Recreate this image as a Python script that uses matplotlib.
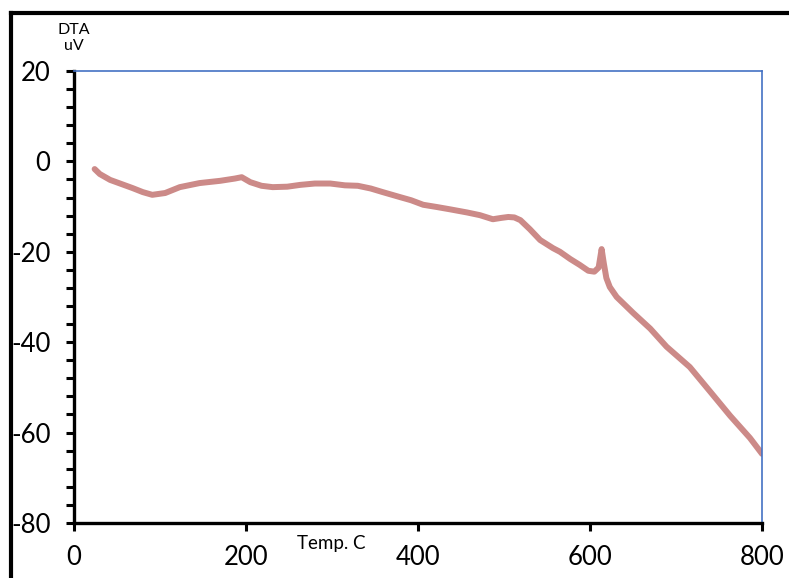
import numpy as np
import matplotlib
matplotlib.use("Agg")
import matplotlib.pyplot as plt
from matplotlib.lines import Line2D
from matplotlib.ticker import MultipleLocator

# DTA trace: temperature (C) vs signal (uV)
temp = [24, 30, 42, 55, 68, 80, 91, 106, 123, 146, 170, 187, 195, 205, 218,
        231, 248, 263, 280, 298, 315, 330, 345, 359, 379, 392, 406, 422, 437,
        457, 472, 487, 497, 505, 512, 519, 530, 542, 557, 565, 577, 588, 598,
        605, 610, 613.5, 616, 619, 623, 631, 650, 670, 689, 716, 740, 763, 786, 800]
dta = [-1.7, -2.8, -4.1, -5.0, -5.9, -6.8, -7.4, -7.0, -5.7, -4.8, -4.3, -3.8,
       -3.5, -4.6, -5.4, -5.7, -5.6, -5.2, -4.9, -4.9, -5.3, -5.4, -6.0, -6.8,
       -7.9, -8.6, -9.6, -10.1, -10.6, -11.3, -11.9, -12.8, -12.5, -12.3, -12.4,
       -13.0, -15.0, -17.4, -19.2, -20.0, -21.6, -22.9, -24.2, -24.4, -23.5,
       -19.4, -22.5, -25.8, -27.8, -30.0, -33.5, -37.0, -41.0, -45.5, -51.0,
       -56.3, -61.2, -64.7]

xticks = [0, 200, 400, 600, 800]
yticks = [-80, -60, -40, -20, 0, 20]

plt.rcParams['font.family'] = ['Lato', 'DejaVu Sans']
plt.rcParams['axes.unicode_minus'] = False

fig = plt.figure(figsize=(7.89, 5.78), dpi=100)
ax = fig.add_axes([0.0938, 0.0952, 0.872, 0.782])

ax.plot(temp, dta, color='#cc8a88', lw=4.3, solid_capstyle='round',
        solid_joinstyle='round')

ax.set_xlim(0, 800)
ax.set_ylim(-80, 20)
ax.set_xticks(xticks)
ax.set_yticks(yticks)
ax.yaxis.set_minor_locator(MultipleLocator(4))
ax.tick_params(axis='both', which='both', direction='out', width=2.2,
               labelsize=18.5, color='black')
ax.tick_params(axis='y', which='major', length=6, pad=11)
ax.tick_params(axis='y', which='minor', length=6)
ax.tick_params(axis='x', which='major', length=6, pad=10)

for s in ['left', 'bottom']:
    ax.spines[s].set_linewidth(2.4)
    ax.spines[s].set_color('black')
for s in ['top', 'right']:
    ax.spines[s].set_linewidth(1.2)
    ax.spines[s].set_color('#4472c4')

fig.text(74 / 789, 1 - 38 / 578, 'DTA\nuV', ha='center', va='center',
         fontsize=11.5, linespacing=1.25)
fig.text(331 / 789, 1 - 543 / 578, 'Temp. C', ha='center', va='center',
         fontsize=13.5)

# outer frame (top and left edges visible)
fig.add_artist(Line2D([11 / 789, 1], [1 - 13 / 578, 1 - 13 / 578],
                      transform=fig.transFigure, color='black', lw=3))
fig.add_artist(Line2D([11 / 789, 11 / 789], [0, 1 - 13 / 578],
                      transform=fig.transFigure, color='black', lw=3))

fig.savefig('out.png', dpi=100)
